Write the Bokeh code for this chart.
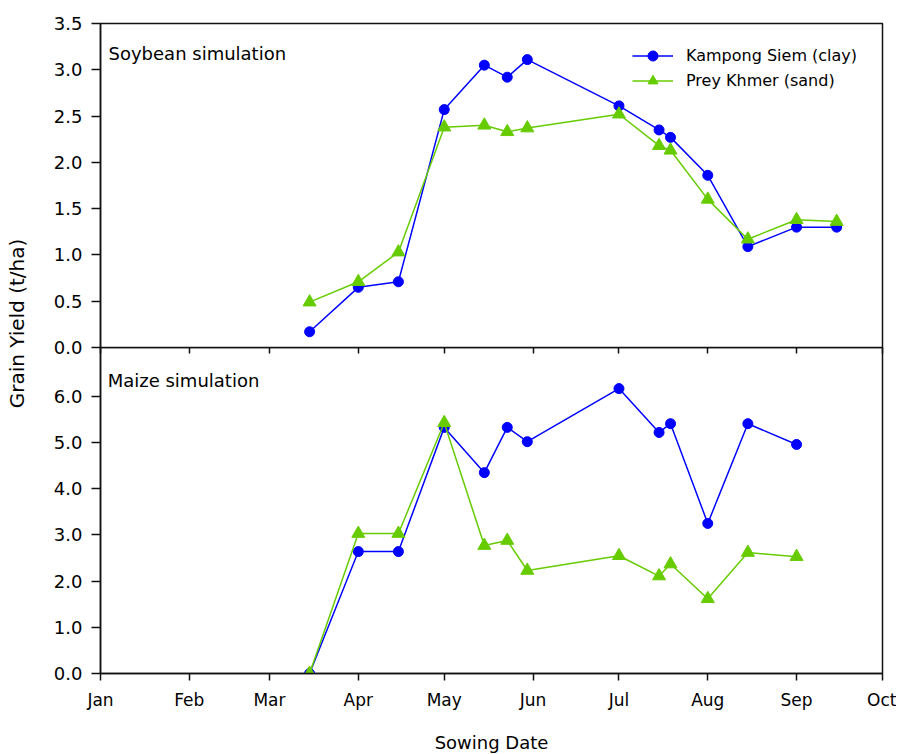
import math
from bokeh.plotting import figure
from bokeh.models import Range1d, FixedTicker, LinearAxis, Label, NumeralTickFormatter
from bokeh.layouts import column, row
from bokeh.embed import file_html
from bokeh.resources import INLINE

# ---------------- data ----------------
month_labels = ["Jan", "Feb", "Mar", "Apr", "May", "Jun", "Jul", "Aug", "Sep", "Oct"]
month_days = [0, 31, 59, 90, 120, 151, 181, 212, 243, 273]   # day of year of each month start

soy_days = [73, 90, 104, 120, 134, 142, 149, 181, 195, 199, 212, 226, 243, 257]
soy_clay = [0.17, 0.65, 0.71, 2.57, 3.05, 2.92, 3.11, 2.61, 2.35, 2.27, 1.86, 1.09, 1.30, 1.30]
soy_sand = [0.49, 0.71, 1.03, 2.38, 2.40, 2.33, 2.37, 2.52, 2.18, 2.13, 1.60, 1.17, 1.38, 1.36]

maize_days = [73, 90, 104, 120, 134, 142, 149, 181, 195, 199, 212, 226, 243]
maize_clay = [0.0, 2.64, 2.64, 5.33, 4.35, 5.33, 5.02, 6.17, 5.22, 5.41, 3.25, 5.41, 4.96]
maize_sand = [0.0, 3.03, 3.03, 5.43, 2.77, 2.88, 2.23, 2.55, 2.11, 2.37, 1.62, 2.62, 2.53]

soy_ticks = [0.0, 0.5, 1.0, 1.5, 2.0, 2.5, 3.0, 3.5]
maize_ticks = [0, 1, 2, 3, 4, 5, 6]
maize_top = 7.06

series_names = ["Kampong Siem (clay)", "Prey Khmer (sand)"]
panel_titles = ["Soybean simulation", "Maize simulation"]
y_label = "Grain Yield (t/ha)"
x_label = "Sowing Date"

# ---------------- style ----------------
FONT = "DejaVu Sans"
BLUE = "#0000FF"
GREEN = "#66CC00"
AX = "#111111"
FRAME_W = 782
LB, RB = 62, 14
LAB_W = 38
OVER = 12               # top figure's lower border, overlapped by the bottom figure
TOP_H = 23 + 324 + OVER
BOT_H = 326 + 81
TOT_H = TOP_H - OVER + BOT_H

x_rng = Range1d(0, 273)


def base_fig(frame_h, y_rng, **kw):
    f = figure(frame_width=FRAME_W, frame_height=frame_h, x_range=x_rng, y_range=y_rng,
               output_backend="svg", toolbar_location=None,
               min_border_left=LB, min_border_right=RB, **kw)
    f.grid.visible = False
    f.outline_line_color = AX
    f.outline_line_width = 1.5
    f.background_fill_color = "white"
    return f


def style_y(ax, ticks):
    ax.ticker = FixedTicker(ticks=ticks)
    ax.formatter = NumeralTickFormatter(format="0.0")
    ax.major_tick_in = 0
    ax.major_tick_out = 9
    ax.minor_tick_in = 0
    ax.minor_tick_out = 0
    ax.major_label_standoff = 9
    ax.major_label_text_font = FONT
    ax.major_label_text_font_size = "18px"
    ax.major_label_text_color = "black"
    ax.axis_line_color = AX
    ax.axis_line_width = 1.5
    ax.major_tick_line_color = AX
    ax.major_tick_line_width = 1.5


# ---------------- top panel (soybean) ----------------
top = base_fig(324, Range1d(0, 3.5), x_axis_location=None,
               min_border_top=23, min_border_bottom=OVER)
top.border_fill_color = "white"
style_y(top.yaxis[0], soy_ticks)

top.line(soy_days, soy_clay, color=BLUE, line_width=1.5, legend_label=series_names[0])
top.scatter(soy_days, soy_clay, marker="circle", size=10, color=BLUE, legend_label=series_names[0])
top.line(soy_days, soy_sand, color=GREEN, line_width=1.5, legend_label=series_names[1])
top.scatter(soy_days, soy_sand, marker="triangle", size=13, color=GREEN, legend_label=series_names[1])

top.add_layout(Label(x=2.8, y=3.18, text=panel_titles[0], text_font=FONT, text_font_size="18px",
                     text_baseline="middle", text_align="left", text_color="black"))

lg = top.legend[0]
lg.location = (532, 254)
lg.glyph_width = 41
lg.glyph_height = 25
lg.label_height = 25
lg.label_standoff = 13
lg.padding = 0
lg.spacing = 0
lg.margin = 0
lg.border_line_color = None
lg.background_fill_alpha = 0
lg.label_text_font = FONT
lg.label_text_font_size = "16px"
lg.label_text_color = "black"

# ---------------- bottom panel (maize) ----------------
bot = base_fig(326, Range1d(0, maize_top), min_border_top=0, min_border_bottom=81)
bot.border_fill_color = None
bot.margin = (-OVER, 0, 0, 0)
style_y(bot.yaxis[0], maize_ticks)

xa = bot.xaxis[0]
xa.ticker = FixedTicker(ticks=month_days)
xa.major_label_overrides = {d: m for d, m in zip(month_days, month_labels)}
xa.major_tick_in = 0
xa.major_tick_out = 7
xa.minor_tick_in = 0
xa.minor_tick_out = 0
xa.major_label_standoff = 9
xa.major_label_text_font = FONT
xa.major_label_text_font_size = "17px"
xa.major_label_text_color = "black"
xa.axis_line_color = AX
xa.axis_line_width = 1.5
xa.major_tick_line_color = AX
xa.major_tick_line_width = 1.5
xa.axis_label = x_label
xa.axis_label_text_font = FONT
xa.axis_label_text_font_size = "18px"
xa.axis_label_text_font_style = "normal"
xa.axis_label_text_color = "black"
xa.axis_label_standoff = 19

mid = LinearAxis(ticker=FixedTicker(ticks=month_days))
mid.major_tick_in = 6
mid.major_tick_out = 0
mid.minor_tick_in = 0
mid.minor_tick_out = 0
mid.major_label_text_font_size = "1px"
mid.major_label_text_color = None
mid.major_label_standoff = 0
mid.axis_line_color = AX
mid.axis_line_width = 1.5
mid.major_tick_line_color = AX
mid.major_tick_line_width = 1.5
bot.add_layout(mid, "above")

bot.line(maize_days, maize_clay, color=BLUE, line_width=1.5)
bot.scatter(maize_days, maize_clay, marker="circle", size=10, color=BLUE)
bot.line(maize_days, maize_sand, color=GREEN, line_width=1.5)
bot.scatter(maize_days, maize_sand, marker="triangle", size=13, color=GREEN)

bot.add_layout(Label(x=2.5, y=6.35, text=panel_titles[1], text_font=FONT, text_font_size="18px",
                     text_baseline="middle", text_align="left", text_color="black"))

# ---------------- shared y label ----------------
lab = figure(width=LAB_W, height=TOT_H, x_range=Range1d(0, LAB_W), y_range=Range1d(0, TOT_H),
             output_backend="svg", toolbar_location=None, min_border=0,
             x_axis_location=None, y_axis_location=None)
lab.grid.visible = False
lab.outline_line_color = None
lab.add_layout(Label(x=16, y=TOT_H - 323, text=y_label, angle=math.pi / 2,
                     text_align="center", text_baseline="middle", text_font=FONT,
                     text_font_size="20px", text_color="black"))

layout = row(lab, column(top, bot, spacing=0), spacing=0)

open("out.html", "w").write(file_html(layout, INLINE))
